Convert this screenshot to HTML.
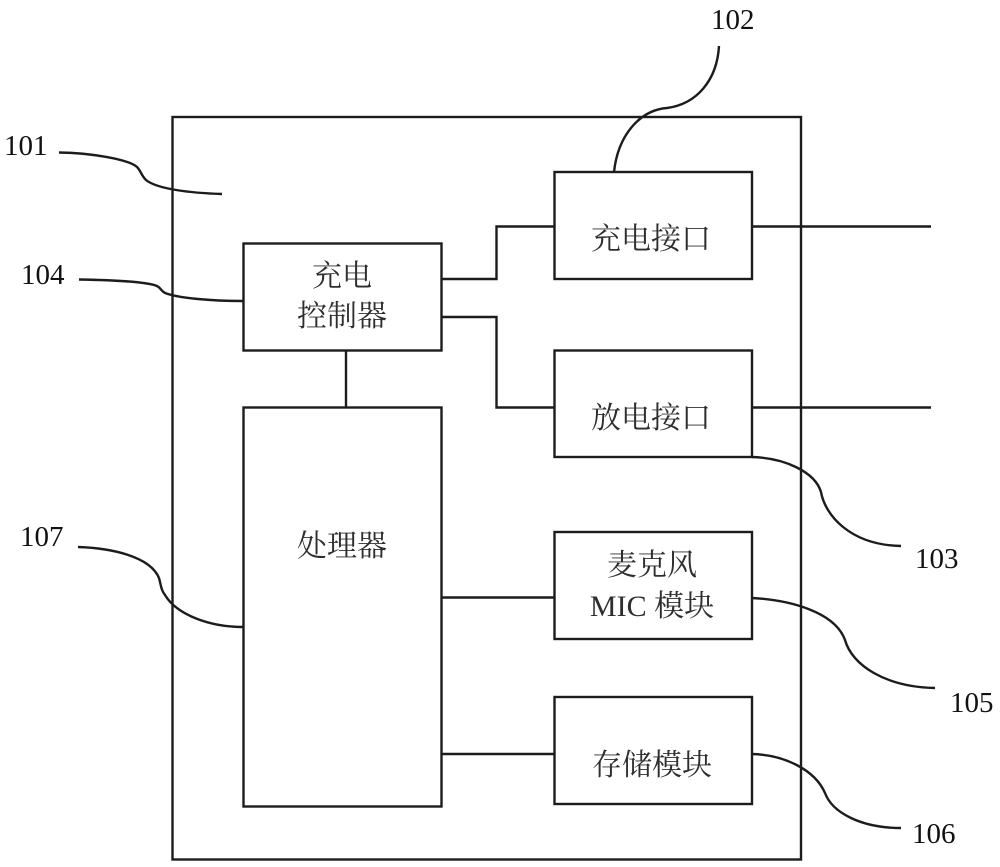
<!DOCTYPE html>
<html>
<head>
<meta charset="utf-8">
<style>
html,body{margin:0;padding:0;background:#fff;}
svg{display:block;}
text{font-family:"Liberation Serif","Noto Serif CJK SC",serif;}
.n{font-size:29px;fill:#111;}
.z{font-size:30px;text-anchor:middle;fill:#2e2e2e;}
</style>
</head>
<body>
<svg width="1000" height="867" viewBox="0 0 1000 867" xmlns="http://www.w3.org/2000/svg">
<rect width="1000" height="867" fill="#fff"/>
<g fill="none" stroke="#1c1c1c" stroke-width="2.4">
<rect x="172.500" y="117" width="628.500" height="742.500"/>
<rect x="243.500" y="243.500" width="198" height="107"/>
<rect x="243.500" y="407.500" width="198" height="399"/>
<rect x="554.500" y="172" width="197.500" height="107"/>
<rect x="554.500" y="350.500" width="197.500" height="106.500"/>
<rect x="554.500" y="532" width="197.500" height="107"/>
<rect x="554.500" y="697" width="197.500" height="107"/>
<path d="M442 279H496.500V226.500H554"/>
<path d="M442 317H496.500V407.500H554"/>
<path d="M346 351V407"/>
<path d="M442 597.500H554"/>
<path d="M442 754H554"/>
<path d="M752 226.500H931"/>
<path d="M752 407.500H931"/>
<path d="M59 152.500C90 153 128 159 137 167C141 171 141 175 146 180C157 189 190 193 222 194"/>
<path d="M79 279.500C105 280 145 281 157 286C161 288 161 291 165 293C178 298 210 301 243 301"/>
<path d="M78 547C110 548 150 556 159 578C161 585 161 590 165 595C177 615 210 627 243 627"/>
<path d="M719 46C717 80 697 104 667 108C640 110 618 135 614 172"/>
<path d="M752 457C785 458 815 472 821 492C825 515 850 545 901 546"/>
<path d="M752 598C790 600 835 612 845 640C852 665 885 687 935 688"/>
<path d="M752 754C785 755 815 770 825 793C832 812 860 828 901 828"/>
</g>
<text class="n" x="4" y="155">101</text>
<text class="n" x="711" y="29">102</text>
<text class="n" x="21" y="284">104</text>
<text class="n" x="20" y="546">107</text>
<text class="n" x="915" y="568">103</text>
<text class="n" x="950" y="712">105</text>
<text class="n" x="912" y="843">106</text>
<text class="z" x="342" y="286">充电</text>
<text class="z" x="342" y="326">控制器</text>
<text class="z" x="342" y="556">处理器</text>
<text class="z" x="651" y="249">充电接口</text>
<text class="z" x="651" y="428">放电接口</text>
<text class="z" x="652" y="575">麦克风</text>
<text class="z" x="652" y="616">MIC 模块</text>
<text class="z" x="652" y="775">存储模块</text>
</svg>
</body>
</html>
